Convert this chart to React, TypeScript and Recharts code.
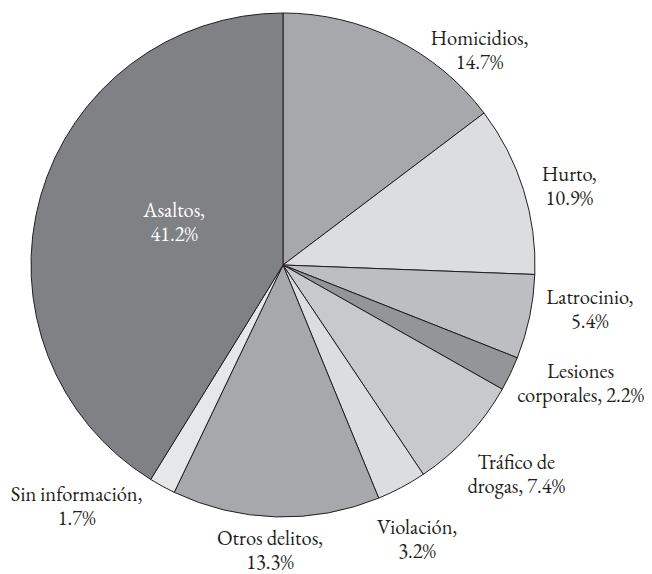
import { PieChart, Pie, Cell } from 'recharts';

const CATEGORIES = [
  'Homicidios,',
  'Hurto,',
  'Latrocinio,',
  'Lesiones',
  'Tráfico de',
  'Violación,',
  'Otros delitos,',
  'Sin información,',
  'Asaltos,',
];
const SECOND_LINES = [
  '14.7%',
  '10.9%',
  '5.4%',
  'corporales, 2.2%',
  'drogas, 7.4%',
  '3.2%',
  '13.3%',
  '1.7%',
  '41.2%',
];
const VALUES = [14.7, 10.9, 5.4, 2.2, 7.4, 3.2, 13.3, 1.7, 41.2];

const COLORS = [
  '#a7a8ab',
  '#dcdddf',
  '#bdbec1',
  '#939598',
  '#c8c9cb',
  '#dcdddf',
  '#a7a8ab',
  '#e6e7e8',
  '#808185',
];

// label placement: angular nudge (deg, clockwise) from slice middle and distance from centre
const LABEL_SHIFT = [16, 2, -3.7, -4, -1, 2, 1, 12, 5.7];
const LABEL_RADIUS = [291, 297, 310, 320, 313, 305, 285, 317, 117];

const RADIAN = Math.PI / 180;
const FONT = '"EB Garamond", "Liberation Serif", serif';
const textStyle = { fontFamily: FONT, fontSize: 20.5 };

const data = VALUES.map((value, i) => ({ name: CATEGORIES[i], value }));

function renderLabel(props: any) {
  const { cx, cy, midAngle, index } = props;
  const angle = midAngle - LABEL_SHIFT[index];
  const r = LABEL_RADIUS[index];
  const x = cx + r * Math.cos(-angle * RADIAN);
  const y = cy + r * Math.sin(-angle * RADIAN);
  const fill = index === 8 ? '#ffffff' : '#231f20';
  return (
    <text
      key={`lbl-${index}`}
      x={x}
      y={y}
      textAnchor="middle"
      fill={fill}
      style={textStyle}
    >
      <tspan x={x} dy={-5}>{CATEGORIES[index]}</tspan>
      <tspan x={x} dy={24}>{SECOND_LINES[index]}</tspan>
    </text>
  );
}

export default function App() {
  return (
    <div style={{ fontFamily: FONT }}>
      <PieChart width={644} height={566} style={{ fontFamily: FONT }}>
        <Pie
          data={data}
          dataKey="value"
          nameKey="name"
          cx={270}
          cy={252}
          outerRadius={252}
          startAngle={90}
          endAngle={-270}
          stroke="#231f20"
          strokeWidth={1}
          label={renderLabel}
          labelLine={false}
          isAnimationActive={false}
        >
          {data.map((d, i) => (
            <Cell key={d.name} fill={COLORS[i]} />
          ))}
        </Pie>
      </PieChart>
    </div>
  );
}
